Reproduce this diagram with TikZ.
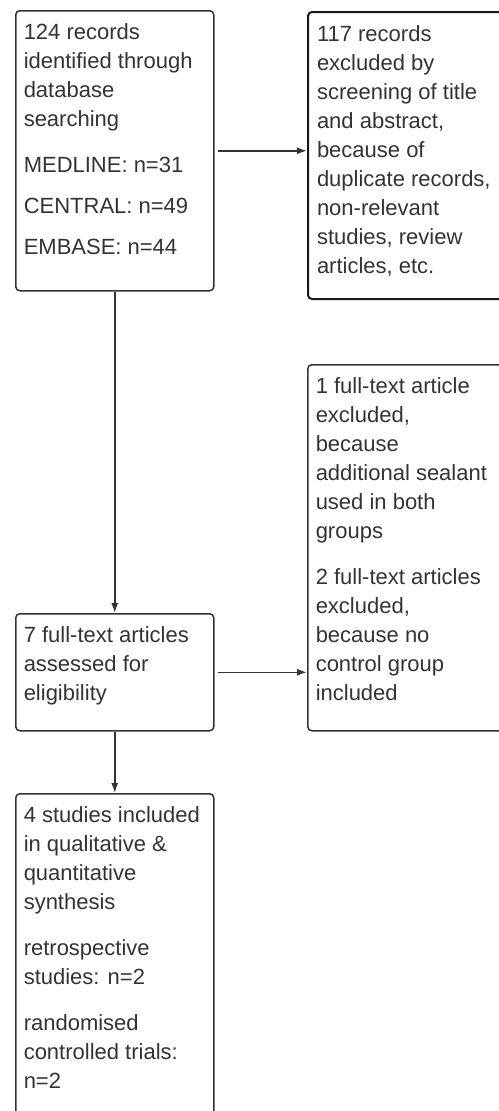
\documentclass[tikz,border=0pt]{standalone}
\usepackage{fontspec}
\setmainfont{Liberation Sans}
\usetikzlibrary{arrows.meta}

\tikzset{
  flowbox/.style={draw=black!80, line width=1.5pt, rounded corners=4pt, anchor=north west,
    inner xsep=8pt, inner ysep=0pt, text=black!80},
  excludebox/.style={flowbox, draw=black!90, line width=2pt, inner xsep=9pt},
  flowarrow/.style={draw=black!80, line width=1.5pt, -{Latex[length=10pt,width=7pt]}}
}
\newcommand{\boxtext}[3]{\parbox[t][#1][t]{#2}{\fontsize{22}{29}\selectfont\raggedright
  \parskip=17pt\rule{0pt}{29pt}#3}}

\begin{document}
\begin{tikzpicture}[x=1pt, y=-1pt]

\useasboundingbox (0,0) rectangle (498,1111);

\node[flowbox] (records) at (15,10) {\boxtext{280pt}{182pt}{124 records\\ identified through\\ database\\ searching\par
  MEDLINE: n=31\\[12pt] CENTRAL: n=49\\[12pt] EMBASE: n=44}};
\node[excludebox] (screened) at (307,11) {\boxtext{287pt}{181pt}{117 records\\ excluded by\\ screening of title\\ and abstract,\\
  because of\\ duplicate records,\\ non-relevant\\ studies, review\\ articles, etc.}};
\node[flowbox] (fulltext) at (15,613) {\boxtext{117pt}{182pt}{7 full-text articles\\ assessed for\\ eligibility}};
\node[flowbox] (excluded) at (307,364) {\boxtext{366pt}{181pt}{1 full-text article\\ excluded,\\ because\\ additional sealant\\
  used in both\\ groups\par 2 full-text articles\\ excluded,\\ because no\\ control group\\ included}};
\node[flowbox] (included) at (15,793) {\boxtext{340pt}{182pt}{4 studies included\\ in qualitative \&\\ quantitative\\ synthesis\par
  retrospective\\ studies: n=2\par randomised\\ controlled trials:\\ n=2}};

\draw[flowarrow, shorten <=3pt] (records.east) -- (records.east -| screened.west);
\draw[flowarrow] (records.south) -- (fulltext.north);
\draw[flowarrow, shorten <=3pt] (fulltext.east) -- (fulltext.east -| excluded.west);
\draw[flowarrow] (fulltext.south) -- (included.north);

\end{tikzpicture}
\end{document}
